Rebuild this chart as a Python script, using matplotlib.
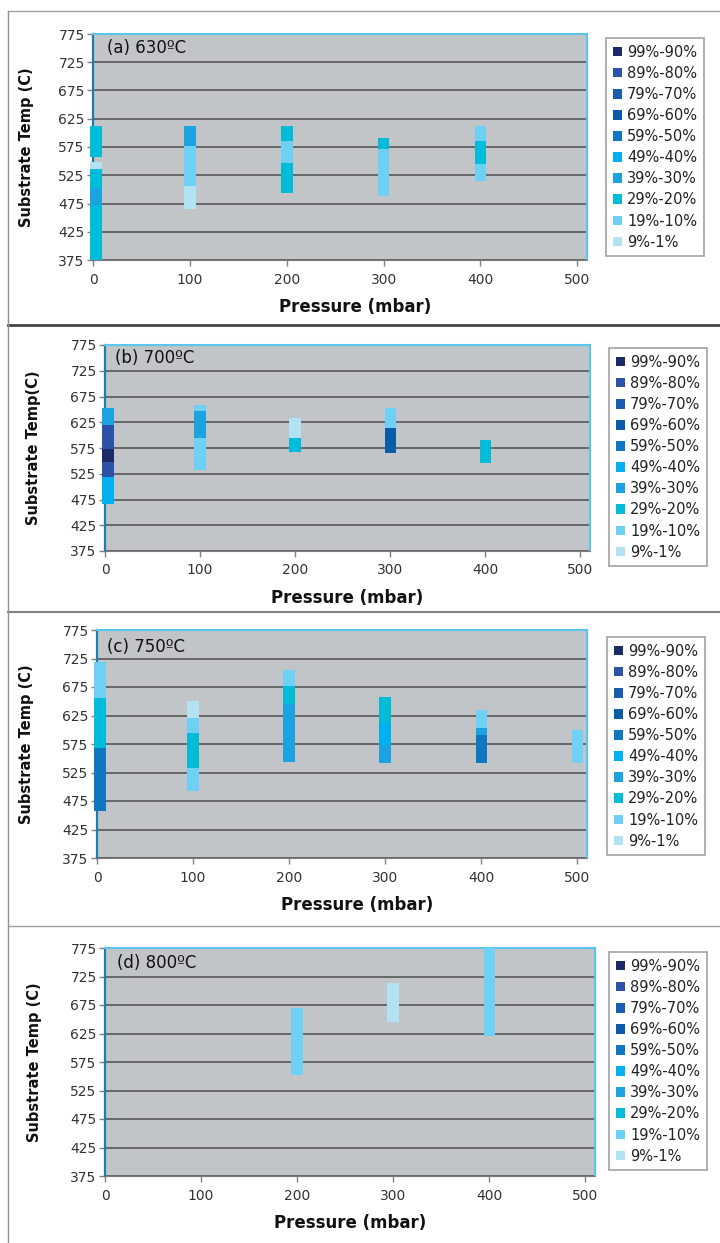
import matplotlib.pyplot as plt
from matplotlib.lines import Line2D
from matplotlib.patches import Patch

# legend categories (fraction of surface covered) and their colours
bands = ['99%-90%', '89%-80%', '79%-70%', '69%-60%', '59%-50%',
         '49%-40%', '39%-30%', '29%-20%', '19%-10%', '9%-1%']
band_colors = ['#1c2a6a', '#2d52a8', '#1a5cae', '#0a5ca8', '#0f77c0',
               '#00b0f0', '#1ba3df', '#00bcd9', '#6fd0f5', '#b3e3f3']

# (a) 630 C : each segment = pressure, low temp, high temp, band
a_pressure = [0, 0, 0, 0, 0, 100, 100, 100, 200, 200, 200, 300, 300, 400, 400, 400]
a_low = [375, 472, 503, 536, 558, 466, 506, 576, 494, 546, 586, 488, 571, 514, 545, 586]
a_high = [472, 503, 536, 548, 612, 506, 576, 612, 546, 586, 612, 571, 591, 545, 586, 612]
a_band = ['29%-20%', '39%-30%', '29%-20%', '9%-1%', '29%-20%',
          '9%-1%', '19%-10%', '39%-30%',
          '29%-20%', '19%-10%', '29%-20%',
          '19%-10%', '29%-20%',
          '19%-10%', '29%-20%', '19%-10%']

# (b) 700 C
b_pressure = [0, 0, 0, 0, 0, 100, 100, 100, 200, 200, 300, 300, 400]
b_low = [466, 519, 548, 574, 620, 532, 595, 646, 567, 595, 565, 613, 545]
b_high = [519, 548, 574, 620, 652, 595, 646, 658, 595, 634, 613, 653, 590]
b_band = ['49%-40%', '89%-80%', '99%-90%', '89%-80%', '39%-30%',
          '19%-10%', '39%-30%', '19%-10%',
          '29%-20%', '9%-1%',
          '69%-60%', '19%-10%',
          '29%-20%']

# (c) 750 C
c_pressure = [0, 0, 0, 100, 100, 100, 100, 200, 200, 200, 300, 300, 300, 400, 400, 400, 500]
c_low = [457, 568, 655, 492, 533, 595, 620, 544, 645, 676, 541, 574, 612, 541, 591, 603, 541]
c_high = [568, 655, 718, 533, 595, 620, 650, 645, 676, 704, 574, 612, 657, 591, 603, 635, 600]
c_band = ['59%-50%', '29%-20%', '19%-10%',
          '19%-10%', '29%-20%', '19%-10%', '9%-1%',
          '39%-30%', '29%-20%', '19%-10%',
          '39%-30%', '49%-40%', '29%-20%',
          '59%-50%', '39%-30%', '19%-10%',
          '19%-10%']

# (d) 800 C
d_pressure = [200, 300, 400]
d_low = [552, 646, 620]
d_high = [669, 713, 775]
d_band = ['19%-10%', '9%-1%', '19%-10%']

titles = ['(a) 630ºC', '(b) 700ºC', '(c) 750ºC', '(d) 800ºC']
ylabels = ['Substrate Temp (C)', 'Substrate Temp(C)', 'Substrate Temp (C)', 'Substrate Temp (C)']
panels = [(a_pressure, a_low, a_high, a_band),
          (b_pressure, b_low, b_high, b_band),
          (c_pressure, c_low, c_high, c_band),
          (d_pressure, d_low, d_high, d_band)]

W, H = 720, 1243
# pixel boxes: axes (left, top, right, bottom), legend top-left, ylabel x, title offset
axes_px = [(93, 34, 587, 260), (105, 345, 590, 551), (97, 630, 587, 858), (105, 948, 595, 1176)]
legend_px = [(606, 38), (609, 348), (607, 637), (609, 952)]
ylabel_x = [26, 34, 27, 35]
xlabel_cx = [355, 347, 357, 350]
title_off = [(14, -14), (10, -13), (10, -17), (12, -15)]

color_of = dict(zip(bands, band_colors))

fig = plt.figure(figsize=(W / 100, H / 100), dpi=100)

for i, (press, low, high, band) in enumerate(panels):
    l, t, r, b = axes_px[i]
    ax = fig.add_axes([l / W, 1 - b / H, (r - l) / W, (b - t) / H])
    ax.set_facecolor('#c2c5c8')
    ax.set_xlim(0, 510)
    ax.set_ylim(375, 775)
    ax.set_yticks(range(375, 776, 50))
    ax.set_xticks(range(0, 501, 100))
    ax.yaxis.grid(True, color='#5e6062', linewidth=1.3)
    ax.set_axisbelow(True)

    # nudge the 0 mbar column so it is not half hidden behind the axis
    xs = [p + 3 if p == 0 else p for p in press]
    ax.bar(xs, [h - lo for lo, h in zip(low, high)], bottom=low, width=12,
           color=[color_of[bd] for bd in band], linewidth=0, zorder=3, clip_on=False)

    ax.spines['left'].set_color('#1b7fae')
    ax.spines['left'].set_linewidth(1.6)
    ax.spines['top'].set_color('#58c6ee')
    ax.spines['right'].set_color('#58c6ee')
    ax.spines['top'].set_linewidth(1.5)
    ax.spines['right'].set_linewidth(1.5)
    ax.spines['bottom'].set_color('#7a7c7e')
    ax.tick_params(axis='both', colors='#808080', labelcolor='#333333',
                   labelsize=10, length=4, width=1)
    ax.tick_params(axis='x', pad=5)
    ax.tick_params(axis='y', pad=2)

    ax.set_xlabel('Pressure (mbar)', fontsize=12, fontweight='bold', color='#111111')
    ax.xaxis.label.set_verticalalignment('center')
    ax.xaxis.set_label_coords((xlabel_cx[i] - l) / (r - l), -47 / (b - t))
    ax.set_ylabel(ylabels[i], fontsize=10.5, fontweight='bold', color='#111111')
    ax.yaxis.label.set_verticalalignment('center')
    ax.yaxis.set_label_coords((ylabel_x[i] - l) / (r - l), 0.5)

    ax.annotate(titles[i], xy=(0, 1), xycoords='axes fraction',
                xytext=title_off[i], textcoords='offset pixels',
                ha='left', va='center', fontsize=12, color='#111111')

    handles = [Patch(facecolor=c, edgecolor='none') for c in band_colors]
    lx, ly = legend_px[i]
    leg = fig.legend(handles, bands, loc='upper left',
                     bbox_to_anchor=(lx / W, 1 - ly / H), fontsize=10.5,
                     frameon=True, fancybox=False, handlelength=0.65, handleheight=0.65,
                     handletextpad=0.35, labelspacing=0.42, borderpad=0.45,
                     borderaxespad=0)
    leg.get_frame().set_edgecolor('#8a8a8a')
    leg.get_frame().set_linewidth(1.2)
    for txt in leg.get_texts():
        txt.set_color('#222222')

# frame lines around / between the panels
fig.add_artist(Line2D([8 / W, 1], [1 - 11 / H, 1 - 11 / H], color='#a0a0a0', linewidth=1))
fig.add_artist(Line2D([8 / W, 1], [1 - 325 / H, 1 - 325 / H], color='#444444', linewidth=2))
fig.add_artist(Line2D([8 / W, 1], [1 - 612 / H, 1 - 612 / H], color='#808080', linewidth=1.5))
fig.add_artist(Line2D([8 / W, 1], [1 - 926 / H, 1 - 926 / H], color='#a0a0a0', linewidth=1))
fig.add_artist(Line2D([8 / W, 8 / W], [0, 1 - 11 / H], color='#909090', linewidth=1))

fig.savefig('out.png', dpi=100)
